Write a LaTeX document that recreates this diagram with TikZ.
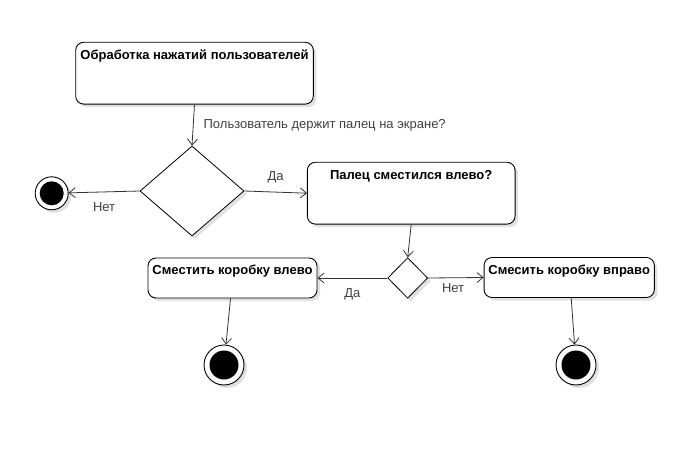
\documentclass[tikz,border=0pt]{standalone}
\usepackage{fontspec}
\setmainfont{Liberation Sans}
\usetikzlibrary{arrows.meta, shapes.geometric, shadows}

\begin{document}
\begin{tikzpicture}[x=1pt, y=-1pt,
	shadowed/.style={drop shadow={shadow xshift=3pt, shadow yshift=-3pt, opacity=0.12, fill=black}},
	act/.style={draw, line width=0.9pt, fill=white, shadowed, rounded corners=8pt, font=\fontsize{13}{15}\selectfont\bfseries, inner xsep=0pt, inner ysep=4.5pt, text height=12.3pt},
	dec/.style={draw, line width=0.8pt, fill=white, shadowed, diamond, inner sep=0pt},
	final/.style={circle, draw, line width=0.9pt, fill=white, shadowed, inner sep=0pt, path picture={\fill[black] (path picture bounding box.center) circle[radius=#1];}},
	flow/.style={draw=black!80, line width=0.8pt, -{Straight Barb[length=6pt, width=10pt]}},
	lbl/.style={font=\fontsize{13}{15}\selectfont, text=black!75, inner sep=0pt}]
			\useasboundingbox (0,0) rectangle (678,468);
			
			\node[act, minimum width=237.6pt, text depth=40.5pt] at (194.5,73.2) (act1) {Обработка нажатий пользователей};
			\node[dec, minimum width=104pt, minimum height=90pt] at (192,191) (dec1) {};
			\node[final=12pt, minimum size=33pt] at (51.7,193.3) (end1) {};
			\node[act, minimum width=207.7pt, text depth=40.5pt] at (411.2,193.2) (act2) {Палец сместился влево?};
			\node[dec, minimum width=40pt, minimum height=40.6pt] at (407.7,278) (dec2) {};
			\node[act, minimum width=169pt, text depth=18.7pt] at (232.5,278) (act3) {Сместить коробку влево};
			\node[act, minimum width=170.3pt, text depth=18.7pt] at (569.2,277.5) (act4) {Смесить коробку вправо};
			\node[final=14.5pt, minimum size=40pt] at (224,365) (end2) {};
			\node[final=14.5pt, minimum size=40pt] at (576,365) (end3) {};
			
			\draw[flow] (act1.south) -- (dec1.north) node[lbl, pos=0.5, right=10pt] {Пользователь держит палец на экране?};
			\draw[flow] (dec1.west) -- (end1) node[lbl, pos=0.5, below=10pt] {Нет};
			\draw[flow] (dec1.east) -- (act2.west) node[lbl, pos=0.5, above=9pt] {Да};
			\draw[flow] (act2.south) -- (dec2.north);
			\draw[flow] (dec2.west) -- (act3.east) node[lbl, pos=0.5, below=10pt] {Да};
			\draw[flow] (dec2.east) -- (act4.west) node[lbl, pos=0.45, below=5pt] {Нет};
			\draw[flow] ([xshift=-2pt]act3.south) -- (end2);
			\draw[flow] ([xshift=2pt]act4.south) -- (end3);
			\end{tikzpicture}
\end{document}
